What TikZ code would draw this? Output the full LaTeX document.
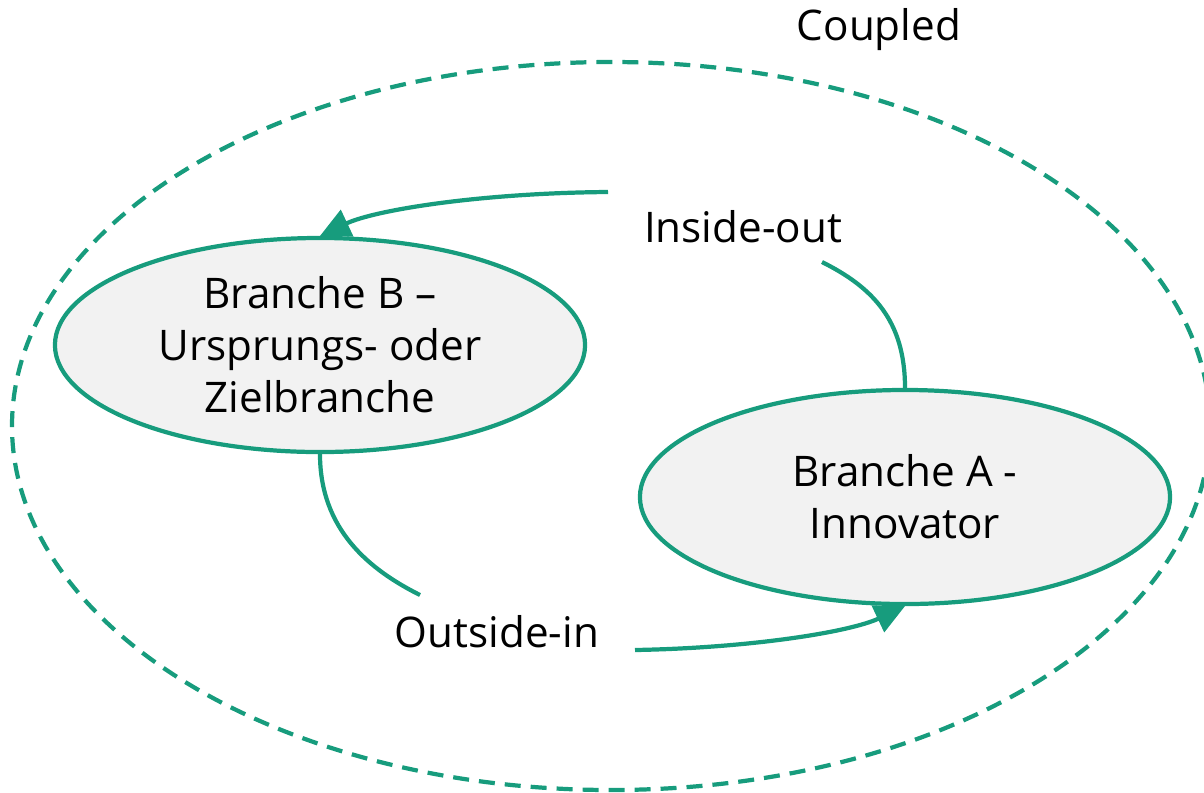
\documentclass[tikz,border=0pt]{standalone}
\usepackage{fontspec}
\setmainfont{Open Sans}
\usetikzlibrary{shapes.geometric,arrows.meta}
\definecolor{fhgreen}{RGB}{23,156,125}
\definecolor{nodefill}{RGB}{242,242,242}
\tikzset{
  branch/.style={ellipse,draw=fhgreen,fill=nodefill,line width=3pt,
    minimum width=13.25cm,minimum height=5.35cm,inner sep=0pt},
  lbl/.style={align=center,inner sep=0pt,font=\fontsize{30}{37}\selectfont},
  flow/.style={draw=fhgreen,line width=3pt},
  flowarrow/.style={flow,-{Triangle[length=0.75cm,width=0.72cm]}},
  boundary/.style={draw=fhgreen,line width=3pt,dash pattern=on 0.4cm off 0.25cm}
}
\begin{document}
\begin{tikzpicture}[x=0.025cm,y=-0.025cm]
\useasboundingbox (0,0) rectangle (1204,792);
% coupled area
\begin{scope}
  \clip (0,0) rectangle (1204,792);
  \draw[boundary] (611,426) ellipse [x radius=599, y radius=364];
\end{scope}
\node[lbl] (coupled) at (879,30) {Coupled};
% industries
\node[branch] (B) at (320,345) {};
\node[lbl] (Btxt) at (B) {Branche B –\\Ursprungs- oder\\Zielbranche};
\node[branch] (A) at (905,497) {};
\node[lbl] (Atxt) at (A) {Branche A -\\Innovator};
% flow labels and free ends of the connectors
\node[lbl] (io) at (743,227) {Inside-out};
\node[lbl] (oi) at (497,632) {Outside-in};
\coordinate (ioin) at (822,262);
\coordinate (ioout) at (608,192);
\coordinate (oiin) at (420,595);
\coordinate (oiout) at (635,650);
% inside-out flow: A to B
\draw[flow] (A.north) .. controls (905,320) and (872,287) .. (ioin);
\draw[flowarrow] (ioout) .. controls (480,193) and (375,210) .. (B.north);
% outside-in flow: B to A
\draw[flow] (B.south) .. controls (320,530) and (370,570) .. (oiin);
\draw[flowarrow] (oiout) .. controls (750,648) and (850,632) .. (A.south);
\end{tikzpicture}
\end{document}
